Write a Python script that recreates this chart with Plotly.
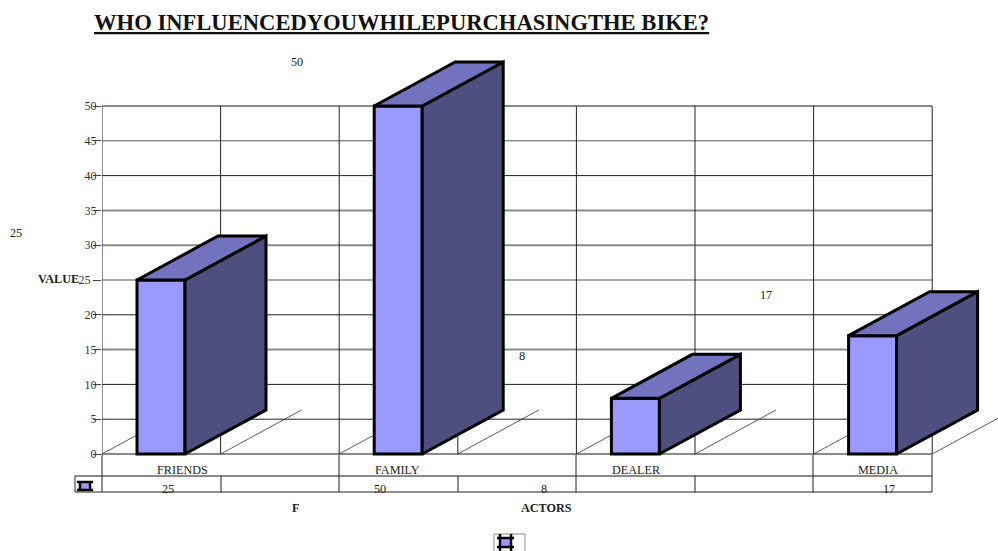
import plotly.graph_objects as go

# Survey answers per influencer
categories = ["FRIENDS", "FAMILY", "DEALER", "MEDIA"]
responses = [25, 50, 8, 17]
value_ticks = [0, 5, 10, 15, 20, 25, 30, 35, 40, 45, 50]
value_tick_text = ["0", "5", "10", "15", "20", "25\u00a0\u00a0", "30", "35", "40", "45", "50"]

# Page size and the box the axes occupy, in pixels
W, H = 998, 551
BOX_L, BOX_R, BOX_T, BOX_B = 102, 998, 40, 500

# Where the value grid sits on the page
GRID_L, GRID_R, ZERO_Y, FULL_Y = 102, 932, 454, 106
PX_PER_VALUE = (ZERO_Y - FULL_Y) / 50

# Extruded-bar geometry, in axis units
BAND = 237.2
X_MIN = -(161 - GRID_L) / BAND
X_MAX = X_MIN + (GRID_R - GRID_L) / BAND
X_BOX_MAX = X_MIN + (BOX_R - BOX_L) / BAND
HALF_WIDTH = 24 / BAND
DEPTH_X = 81 / BAND
DEPTH_Y = 44 / PX_PER_VALUE

FRONT, TOP_FACE, SIDE = "#9999FF", "#7272BF", "#4E4E7F"
EDGE = "#000000"
GRID = "#222222"
SOFT = "#8a8a8a"
SERIF = "Liberation Serif"

# Horizontal rule weights: some rules print heavier and paler than others
SOFT_RULES = {0, 15, 30, 35, 50}
MID_RULES = {25, 45}


def rule_style(v):
    if v in SOFT_RULES:
        return dict(color=SOFT, width=2)
    if v in MID_RULES:
        return dict(color="#555555", width=1)
    return dict(color=GRID, width=1)


def px(x):
    return (x - BOX_L) / (BOX_R - BOX_L)


def py(y):
    return (BOX_B - y) / (BOX_B - BOX_T)


def paper_line(x0, y0, x1, y1, color=GRID, width=1, layer="below"):
    return dict(type="line", xref="paper", yref="paper", x0=px(x0), y0=py(y0), x1=px(x1), y1=py(y1),
                line=dict(color=color, width=width), layer=layer)


def label(text, x, y, size=12.2, bold=False, color="#222222"):
    shown = f"<b>{text}</b>" if bold else text
    return dict(text=shown, xref="paper", yref="paper", x=px(x), y=py(y), showarrow=False,
                font=dict(family=SERIF, size=size, color=color), xanchor="center", yanchor="middle")


def legend_key(xs, ys, x_span, y_span):
    """Swatch crossed by the heavy frame lines used in the data table."""
    marks = [dict(type="rect", xref="paper", yref="paper", x0=px(xs[0]), x1=px(xs[1]), y0=py(ys[1]), y1=py(ys[0]),
                  fillcolor=FRONT, line=dict(width=0), layer="above")]
    for y in ys:
        marks.append(paper_line(x_span[0], y, x_span[1], y, EDGE, 2.5, "above"))
    for x in xs:
        marks.append(paper_line(x, y_span[0], x, y_span[1], EDGE, 2.5, "above"))
    return marks


fig = go.Figure()

# Front faces
fig.add_bar(x=list(range(len(categories))), y=responses, width=2 * HALF_WIDTH,
            marker=dict(color=FRONT, line=dict(color=EDGE, width=3)), hoverinfo="x+y", cliponaxis=False,
            showlegend=False)

# Side and top faces built from the same values
for i, v in enumerate(responses):
    l, r = i - HALF_WIDTH, i + HALF_WIDTH
    fig.add_scatter(x=[r, r + DEPTH_X, r + DEPTH_X, r, r], y=[0, DEPTH_Y, v + DEPTH_Y, v, 0],
                    fill="toself", fillcolor=SIDE, mode="lines", line=dict(color=EDGE, width=3),
                    showlegend=False, hoverinfo="skip")
    fig.add_scatter(x=[l, l + DEPTH_X, r + DEPTH_X, r, l], y=[v, v + DEPTH_Y, v + DEPTH_Y, v, v],
                    fill="toself", fillcolor=TOP_FACE, mode="lines", line=dict(color=EDGE, width=3),
                    showlegend=False, hoverinfo="skip")

shapes = []

# Value grid, limited to the front plane
edges = [X_MIN + k * 0.5 for k in range(8)]
for v in value_ticks:
    shapes.append(dict(type="line", xref="x", yref="y", x0=X_MIN, x1=X_MAX, y0=v, y1=v,
                       line=rule_style(v), layer="below"))
for e in edges:
    shapes.append(dict(type="line", xref="x", yref="y", x0=e, x1=e, y0=0, y1=50,
                       line=dict(color=GRID, width=1), layer="below"))

# Floor lines running back from every band edge
for e in edges:
    end = min(e + DEPTH_X, X_BOX_MAX)
    shapes.append(dict(type="line", xref="x", yref="y", x0=e, y0=0, x1=end,
                       y1=DEPTH_Y * (end - e) / DEPTH_X, line=dict(color="#333333", width=0.8), layer="below"))

# Data table under the plot
shapes += [
    paper_line(75, 476, GRID_R, 476, SOFT, 2),
    paper_line(75, 492, GRID_R, 492, GRID, 1),
    paper_line(75, 476, 75, 492, GRID, 1),
]
for x in (102, 339, 576, 813, 932):
    shapes.append(paper_line(x, 454, x, 492))
for x in (221, 458, 695):
    shapes.append(paper_line(x, 476, x, 492))

# Box behind the lower swatch, then both swatches
shapes += [paper_line(494, 534, 525, 534, SOFT), paper_line(494, 534, 494, 551, SOFT),
           paper_line(525, 534, 525, 551, SOFT)]
shapes += legend_key((80, 90), (482, 490), (77, 93), (481, 491))
shapes += legend_key((500, 511), (538, 547), (497, 514), (534, 551))

annotations = [
    label("<u>WHO INFLUENCEDYOUWHILEPURCHASINGTHE BIKE?</u>", 401.5, 22, size=22.6, bold=True, color="#111111"),
    label("VALUE", 58, 279, bold=True),
    label("F", 295, 508, bold=True),
    label("ACTORS", 546, 508, bold=True),
]

# Category names on the first table row, with values on the second and floating over the bars
name_x = [182, 397, 636, 878]
table_x = [168, 380, 544, 889]
float_xy = [(16, 233), (297, 62), (522, 356), (766, 295)]
for name, nx, value, tx, (fx, fy) in zip(categories, name_x, responses, table_x, float_xy):
    annotations.append(label(name, nx, 470))
    annotations.append(label(str(value), tx, 489))
    annotations.append(label(str(value), fx, fy))

fig.update_layout(
    width=W, height=H,
    autosize=False,
    margin=dict(l=BOX_L, r=W - BOX_R, t=BOX_T, b=H - BOX_B, pad=0),
    paper_bgcolor="white", plot_bgcolor="rgba(0,0,0,0)",
    shapes=shapes, annotations=annotations,
    showlegend=False,
    xaxis=dict(range=[X_MIN, X_BOX_MAX], showticklabels=False, showgrid=False, zeroline=False,
               showline=False, ticks=""),
    yaxis=dict(range=[-(BOX_B - ZERO_Y) / PX_PER_VALUE, (ZERO_Y - BOX_T) / PX_PER_VALUE], tickvals=value_ticks,
               ticktext=value_tick_text, showgrid=False, zeroline=False, showline=False, ticks="outside",
               ticklen=8, tickcolor="#444444", ticklabelstandoff=-6,
               tickfont=dict(family=SERIF, size=12, color="#333333")),
)

fig.write_html("out.html", config=dict(displayModeBar=False))
